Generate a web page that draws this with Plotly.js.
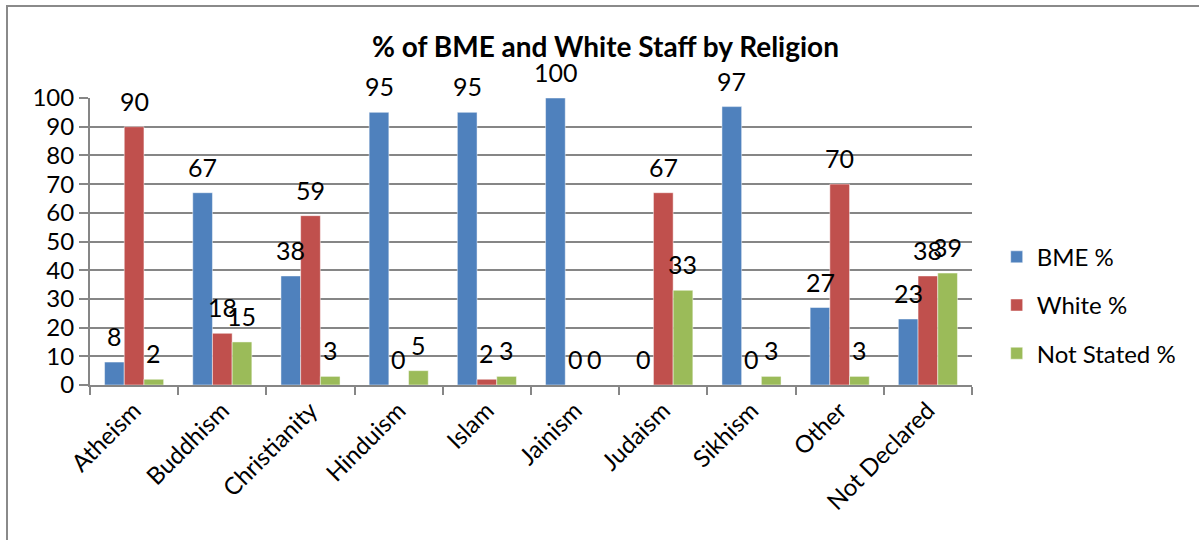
<!DOCTYPE html>
<html>
<head>
<meta charset="utf-8">
<script src="https://cdn.plot.ly/plotly-3.0.1.min.js"></script>
<style>
  html, body { margin: 0; padding: 0; background: #fff; }
  #wrap { position: relative; width: 1199px; height: 540px; overflow: hidden; }
  #chart { position: absolute; left: 0; top: 0; width: 1199px; height: 540px; }
  #frame { position: absolute; left: 6px; top: 5px; width: 1300px; height: 700px;
           border-left: 2px solid #8a8a8a; border-top: 2px solid #8a8a8a; pointer-events: none; }
</style>
</head>
<body>
<div id="wrap">
  <div id="chart"></div>
  <div id="frame"></div>
</div>
<script>
// Staff breakdown by religion, percentages per group
const religions = ['Atheism', 'Buddhism', 'Christianity', 'Hinduism', 'Islam',
                   'Jainism', 'Judaism', 'Sikhism', 'Other', 'Not Declared'];
const bmePct       = [8, 67, 38, 95, 95, 100, 0, 97, 27, 23];
const whitePct     = [90, 18, 59, 0, 2, 0, 67, 0, 70, 38];
const notStatedPct = [2, 15, 3, 5, 3, 0, 33, 3, 3, 39];
const seriesNames  = ['BME %', 'White %', 'Not Stated %'];

const FONT = 'Lato, "Open Sans", sans-serif';
const colors = ['#4F81BD', '#C0504D', '#9BBB59'];
const seriesValues = [bmePct, whitePct, notStatedPct];

const traces = seriesValues.map((vals, i) => ({
  type: 'bar',
  name: seriesNames[i],
  x: religions,
  y: vals,
  legendgroup: 'g' + i,
  marker: { color: colors[i], line: { color: 'rgba(255,255,255,0.6)', width: 0.8 } },
  hoverinfo: 'skip'
}));

// value labels sit above each bar, offset per series within the group
const barPx = 19.6;
const annotations = [];
seriesValues.forEach((vals, i) => {
  vals.forEach((v, j) => {
    annotations.push({
      x: religions[j], y: v, xref: 'x', yref: 'y',
      text: String(v), showarrow: false,
      xshift: (i - 1) * barPx, yshift: 26,
      xanchor: 'center', yanchor: 'middle',
      font: { family: FONT, size: 25, color: '#000' }
    });
  });
});

const layout = {
  width: 1199, height: 540,
  paper_bgcolor: '#fff', plot_bgcolor: '#fff',
  margin: { l: 90, r: 227, t: 98, b: 155 },
  title: {
    text: '<b>% of BME and White Staff by Religion</b>',
    x: 0.505, xanchor: 'center', y: 0.913, yanchor: 'middle',
    font: { family: FONT, size: 28, color: '#000' }
  },
  barmode: 'group',
  bargap: 0.33,
  bargroupgap: 0,
  showlegend: true,
  legend: {
    x: 1.028, xanchor: 'left', y: 0.278, yanchor: 'middle',
    font: { family: FONT, size: 24, color: '#000' },
    tracegroupgap: 14,
    itemwidth: 30
  },
  xaxis: {
    type: 'category',
    tickangle: -45,
    tickfont: { family: FONT, size: 24, color: '#000' },
    showline: true, linecolor: '#868686', linewidth: 2,
    ticks: 'outside', tickson: 'boundaries', ticklen: 8, tickcolor: '#868686', tickwidth: 2,
    showgrid: false
  },
  yaxis: {
    range: [0, 100],
    dtick: 10,
    tickfont: { family: FONT, size: 24, color: '#000' },
    showline: true, linecolor: '#868686', linewidth: 2,
    ticks: 'outside', ticklen: 9, tickcolor: '#868686', tickwidth: 2,
    showgrid: true, gridcolor: '#868686', gridwidth: 2,
    zeroline: false
  },
  annotations: annotations
};

Plotly.newPlot('chart', traces, layout, { displayModeBar: false, staticPlot: true });
</script>
</body>
</html>
